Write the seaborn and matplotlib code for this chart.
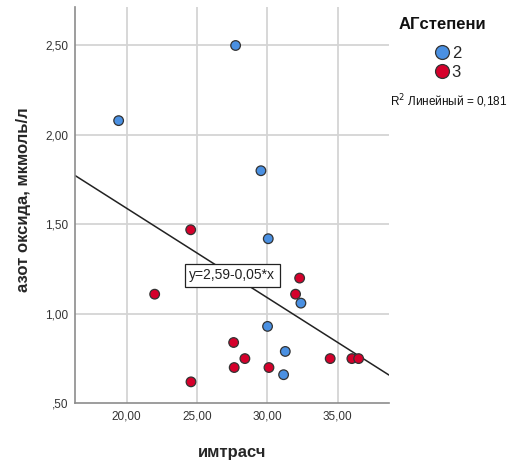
import matplotlib
matplotlib.use("Agg")
import matplotlib.pyplot as plt
from matplotlib.lines import Line2D
import seaborn as sns
import pandas as pd
import numpy as np

# Data
bmi_grade2 = [27.74, 19.43, 29.54, 30.06, 32.38, 30.01, 31.27, 31.15]
no_grade2 = [2.50, 2.08, 1.80, 1.42, 1.06, 0.93, 0.79, 0.66]
bmi_grade3 = [24.55, 21.99, 32.29, 32.00, 27.60, 28.40, 27.64, 30.11, 24.57, 34.46, 36.00, 36.48]
no_grade3 = [1.47, 1.11, 1.20, 1.11, 0.84, 0.75, 0.70, 0.70, 0.62, 0.75, 0.75, 0.75]
groups = ["2", "3"]
colors = ["#4a90e2", "#d5002b"]
fit_intercept = 2.59
fit_slope = -0.05
r_squared = 0.181
x_ticks = [20, 25, 30, 35]
y_ticks = [0.5, 1.0, 1.5, 2.0, 2.5]

df = pd.DataFrame({
    "имтрасч": bmi_grade2 + bmi_grade3,
    "NO": no_grade2 + no_grade3,
    "АГстепени": [groups[0]] * len(bmi_grade2) + [groups[1]] * len(bmi_grade3),
})

sns.set_style("white")
plt.rcParams["font.family"] = ["Liberation Sans", "DejaVu Sans"]

fig = plt.figure(figsize=(5.12, 4.62), dpi=100)
ax = fig.add_axes([0.1465, 0.1270, 0.6133, 0.8578])

xlim = (16.33, 38.64)
ylim = (0.5, 2.715)

ax.set_xlim(*xlim)
ax.set_ylim(*ylim)

# Grid
for xt in x_ticks:
    ax.axvline(xt, color="#d4d4d4", lw=1.3, zorder=0)
for yt in y_ticks[1:]:
    ax.axhline(yt, color="#d4d4d4", lw=1.3, zorder=0)

# Fit line
xs = np.array(xlim)
ax.plot(xs, fit_intercept + fit_slope * xs, color="#222222", lw=1.1, zorder=2)

sns.scatterplot(data=df, x="имтрасч", y="NO", hue="АГстепени",
                palette=dict(zip(groups, colors)), s=48,
                edgecolor="#333333", linewidth=0.9, legend=False,
                ax=ax, zorder=3)

# Equation label
ax.text(27.51, 1.215, "y=2,59-0,05*x", fontsize=10, color="#222222",
        ha="center", va="center", zorder=4,
        bbox=dict(boxstyle="square,pad=0.3", fc="white", ec="#222222", lw=0.9))

ax.set_xticks(x_ticks)
ax.set_xticklabels(["20,00", "25,00", "30,00", "35,00"])
ax.set_yticks(y_ticks)
ax.set_yticklabels([",50", "1,00", "1,50", "2,00", "2,50"])
ax.tick_params(axis="both", length=0, labelsize=8.5, colors="#333333", pad=5)

for side in ["top", "right"]:
    ax.spines[side].set_visible(False)
for side in ["left", "bottom"]:
    ax.spines[side].set_color("#8c8c8c")
    ax.spines[side].set_linewidth(1.2)

ax.set_xlabel("имтрасч", fontsize=12, fontweight="bold")
ax.xaxis.set_label_coords(0.5, -0.106)
ax.set_ylabel("азот оксида, мкмоль/л", fontsize=12, fontweight="bold")
ax.yaxis.set_label_coords(-0.139, 0.515)

# Legend
fig.text(0.864, 0.946, "АГстепени", fontsize=12, fontweight="bold",
         ha="center", va="center", color="#111111")
handles = [Line2D([], [], marker="o", ls="", markersize=10,
                  markerfacecolor=c, markeredgecolor="#333333", markeredgewidth=0.9)
           for c in colors]
fig.legend(handles, groups, loc="center", bbox_to_anchor=(0.872, 0.864),
           frameon=False, handletextpad=0.0, labelspacing=0.25,
           fontsize=12, handlelength=1.2)
fig.text(0.877, 0.782, "R$^2$ Линейный = 0,181", fontsize=8.5,
         ha="center", va="center", color="#111111")

fig.savefig("out.png", dpi=100)
